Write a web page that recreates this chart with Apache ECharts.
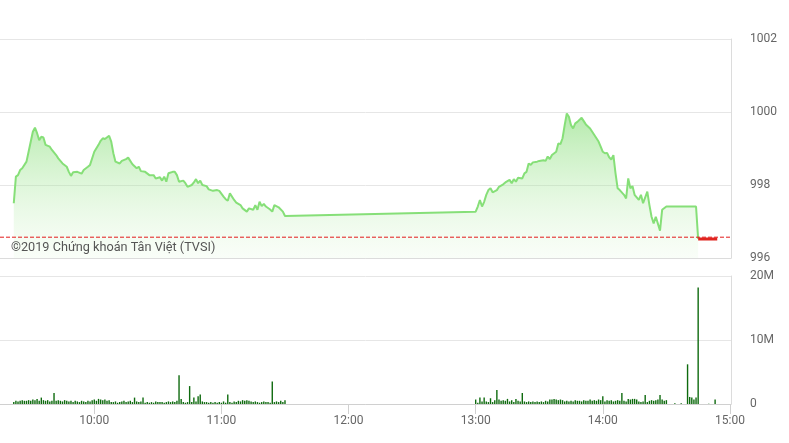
<!DOCTYPE html>
<html><head><meta charset="utf-8">
<script src="https://cdn.jsdelivr.net/npm/echarts@6/dist/echarts.min.js"></script>
<style>html,body{margin:0;padding:0;background:#fff}#c{width:789px;height:443px}</style>
</head><body><div id="c"></div>
<script>
// ---- data ----
const priceTimes = ['09:22','09:23','09:24','09:25','09:26','09:28','09:29','09:31','09:32','09:33','09:34','09:35','09:36','09:37','09:39','09:40','09:42','09:43','09:45','09:47','09:48','09:49','09:50','09:52','09:54','09:55','09:57','09:58',
'10:00','10:02','10:03','10:04','10:05','10:07','10:08','10:09','10:10','10:12','10:13','10:15','10:16','10:18','10:20','10:21','10:22','10:24','10:26','10:28','10:29','10:31','10:32','10:33','10:34','10:35','10:37','10:38','10:39','10:40','10:42','10:43','10:44','10:46','10:47','10:48','10:49','10:50','10:51','10:53','10:54','10:56','10:58','10:59',
'11:01','11:02','11:03','11:04','11:06','11:07','11:09','11:10','11:12','11:13','11:15','11:16','11:17','11:18','11:19','11:20','11:21','11:23','11:24','11:25','11:27','11:29','11:30',
'13:00','13:01','13:02','13:03','13:04','13:05','13:06','13:07','13:08','13:10','13:11','13:13','13:14','13:16','13:17','13:18','13:19','13:20','13:22','13:23','13:24','13:25','13:26','13:27','13:29','13:30','13:32','13:33','13:34','13:35','13:36','13:38','13:39','13:40','13:41','13:42','13:43','13:44','13:45','13:46','13:47','13:48','13:50','13:51','13:52','13:54','13:55','13:56','13:57','13:58','13:59',
'14:00','14:01','14:02','14:03','14:04','14:05','14:06','14:07','14:08','14:10','14:11','14:12','14:13','14:14','14:15','14:17','14:18','14:19','14:21','14:22','14:23','14:24','14:25','14:27','14:28','14:30','14:44','14:45'];
const priceValues = [997.50,998.23,998.27,998.41,998.46,998.64,998.91,999.46,999.57,999.42,999.23,999.32,999.30,999.10,999.05,998.96,998.82,998.73,998.59,998.50,998.36,998.25,998.35,998.36,998.31,998.41,998.50,998.55,
998.91,999.10,999.21,999.28,999.26,999.35,999.19,998.87,998.64,998.59,998.66,998.71,998.75,998.57,998.46,998.50,998.38,998.36,998.27,998.27,998.18,998.21,998.12,998.23,998.09,998.32,998.36,998.36,998.27,998.09,998.12,998.05,997.95,998.00,998.07,998.16,998.05,998.12,998.00,997.97,997.88,997.84,997.86,997.84,
997.68,997.61,997.57,997.77,997.59,997.52,997.45,997.36,997.27,997.36,997.32,997.45,997.32,997.54,997.42,997.48,997.41,997.33,997.27,997.45,997.39,997.27,997.15,
997.27,997.41,997.59,997.41,997.54,997.73,997.86,997.91,997.80,997.86,997.95,998.02,998.07,998.14,998.05,998.16,998.09,998.20,998.18,998.32,998.36,998.59,998.55,998.62,998.64,998.66,998.68,998.66,998.78,998.71,998.82,998.91,999.14,999.12,999.28,999.64,999.96,999.87,999.64,999.55,999.69,999.73,999.84,999.75,999.66,999.55,999.46,999.37,999.28,999.19,999.05,
998.91,998.87,998.88,998.76,998.70,998.82,998.32,997.91,997.86,997.73,997.63,998.18,997.91,997.97,997.73,997.59,997.73,997.50,997.82,997.45,997.13,996.95,997.13,996.75,997.32,997.41,997.41,996.52];
const closeTimes = ['14:45','14:54'];
const closeValues = [996.52,996.52];
const referencePrice = 996.57;

// volumes in millions, one bar per minute
const volumeStartAM = '09:22';
const volumeAM = [0.3,0.5,0.4,0.5,0.6,0.5,0.5,0.6,0.5,0.7,
0.6,0.8,0.5,1.0,0.6,0.5,0.6,0.4,0.5,1.7,
0.5,0.6,0.5,0.4,0.6,0.5,0.4,0.5,0.3,0.5,
0.4,0.3,0.5,0.4,0.3,0.5,0.4,0.6,0.7,0.5,
0.8,0.7,0.6,0.7,0.5,0.6,0.3,0.3,0.4,0.2,
0.3,0.4,0.5,0.3,0.4,0.5,0.3,1.0,0.4,0.3,
0.4,1.0,0.2,0.3,0.2,0.3,0.2,0.4,0.3,0.3,
0.3,0.2,0.3,0.4,0.3,0.4,0.3,0.5,4.5,0.8,
0.3,0.2,0.3,2.8,0.3,1.0,0.4,1.2,1.5,0.4,
0.3,0.3,0.2,0.3,0.2,0.3,0.2,0.3,0.2,0.4,
0.2,1.5,0.3,0.2,0.4,0.3,0.5,0.4,0.6,0.5,
0.6,0.5,0.4,0.3,0.4,0.3,0.2,0.3,0.4,0.3,
0.3,0.2,3.5,0.3,0.4,0.3,0.5,0.3,0.6];
const volumeStartPM = '13:00';
const volumePM = [0.7,0.2,1.0,0.4,1.0,0.4,0.3,0.9,0.3,0.6,
2.2,0.7,0.5,0.6,0.5,0.8,0.4,0.6,0.3,0.8,
0.5,0.4,1.7,0.4,0.3,0.4,0.3,0.4,0.3,0.4,
0.3,0.4,0.3,0.5,0.4,0.7,0.7,0.8,0.7,0.6,
0.7,0.6,0.4,0.5,0.4,0.5,0.4,0.6,0.5,0.5,
0.4,0.6,0.5,0.5,0.7,0.5,0.6,0.5,0.7,0.6,
1.2,0.4,0.6,0.5,0.6,0.4,0.5,0.6,0.5,1.7,
0.5,0.4,0.8,0.7,0.8,0.8,0.7,0.4,0.3,0.4,
1.4,0.3,0.5,0.6,0.5,0.6,0.7,1.4,0.7,0.5,
0.6];
const lateVolumeTimes = ['14:34','14:37','14:40','14:41','14:42','14:43','14:44','14:45','14:50','14:53'];
const lateVolumeValues = [0.1,0.1,6.2,1.1,1.0,0.7,1.0,18.2,0.05,0.7];

const timeTicks = ['10:00','11:00','12:00','13:00','14:00','15:00'];
const priceTicks = [996,998,1000,1002];
const volumeTicks = [0,10,20];
const watermark = '©2019 Chứng khoán Tân Việt (TVSI)';

// ---- helpers ----
const toMin = s => { const p = s.split(':'); return (+p[0]) * 60 + (+p[1]); };
const fmtMin = m => { const h = Math.floor(m / 60), mm = Math.round(m - h * 60); return h + ':' + (mm < 10 ? '0' : '') + mm; };

const X_MIN = 555.5, X_MAX = 900.5;
const font = 'Roboto';

const priceData = priceTimes.map((t, i) => [toMin(t), priceValues[i]]);
const closeData = closeTimes.map((t, i) => [toMin(t), closeValues[i]]);
const refData = [[X_MIN, referencePrice], [X_MAX, referencePrice]];
const volData = [];
volumeAM.forEach((v, i) => volData.push([toMin(volumeStartAM) + i, v]));
volumePM.forEach((v, i) => volData.push([toMin(volumeStartPM) + i, v]));
lateVolumeTimes.forEach((t, i) => volData.push([toMin(t), lateVolumeValues[i]]));
const tickMins = timeTicks.map(toMin);

const chart = echarts.init(document.getElementById('c'), null, { renderer: 'canvas' });
chart.setOption({
  animation: false,
  backgroundColor: '#fff',
  grid: [
    { left: 0, width: 731, top: 39, height: 219 },
    { left: 0, width: 731, top: 276, height: 128 }
  ],
  xAxis: [
    { gridIndex: 0, type: 'value', min: X_MIN, max: X_MAX,
      axisLine: { show: true, lineStyle: { color: '#dcdcdc' } },
      axisTick: { show: false }, axisLabel: { show: false }, splitLine: { show: false } },
    { gridIndex: 1, type: 'value', min: X_MIN, max: X_MAX,
      axisLine: { show: true, lineStyle: { color: '#d0d0d0' } },
      axisTick: { show: true, customValues: tickMins, length: 10, lineStyle: { color: '#d0d0d0' } },
      axisLabel: { show: true, customValues: tickMins, formatter: v => fmtMin(v), color: '#666', fontSize: 12, fontFamily: font, margin: 11 },
      splitLine: { show: false } }
  ],
  yAxis: [
    { gridIndex: 0, type: 'value', position: 'right', min: priceTicks[0], max: priceTicks[priceTicks.length - 1], interval: 2,
      axisLine: { show: true, lineStyle: { color: '#dcdcdc' } }, axisTick: { show: false },
      axisLabel: { color: '#666', fontSize: 12, fontFamily: font, margin: 19, formatter: v => String(v) },
      splitLine: { show: true, lineStyle: { color: '#e6e6e6' } } },
    { gridIndex: 1, type: 'value', position: 'right', min: volumeTicks[0], max: volumeTicks[volumeTicks.length - 1], interval: 10,
      axisLine: { show: true, lineStyle: { color: '#dcdcdc' } }, axisTick: { show: false },
      axisLabel: { color: '#666', fontSize: 12, fontFamily: font, margin: 19, formatter: v => v ? v + 'M' : '0' },
      splitLine: { show: true, lineStyle: { color: '#e6e6e6' } } }
  ],
  graphic: [
    { type: 'text', left: 11, top: 241, z: 100,
      style: { text: watermark, fill: '#555', font: '12.7px Roboto' } }
  ],
  series: [
    { type: 'line', xAxisIndex: 0, yAxisIndex: 0, data: priceData, showSymbol: false, symbol: 'none', z: 2,
      lineStyle: { color: '#86df78', width: 2 },
      areaStyle: { origin: 'start', color: new echarts.graphic.LinearGradient(0, 0, 0, 1, [
        { offset: 0, color: 'rgba(130,220,115,0.85)' },
        { offset: 1, color: 'rgba(200,242,190,0.15)' }
      ]) } },
    { type: 'line', xAxisIndex: 0, yAxisIndex: 0, data: refData, showSymbol: false, symbol: 'none', z: 4, silent: true,
      lineStyle: { color: '#e31b1b', width: 1, type: [4, 2] } },
    { type: 'line', xAxisIndex: 0, yAxisIndex: 0, data: closeData, showSymbol: false, symbol: 'none', z: 3,
      lineStyle: { color: '#e0241f', width: 3 } },
    { type: 'bar', xAxisIndex: 1, yAxisIndex: 1, data: volData, barWidth: 1.4,
      itemStyle: { color: '#0e6a0e' } }
  ]
});
</script></body></html>
